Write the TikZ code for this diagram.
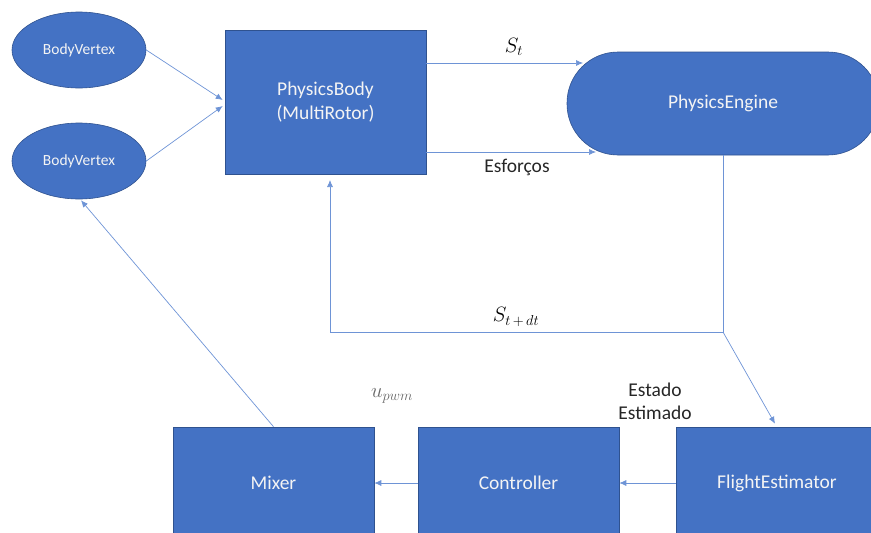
\documentclass[tikz,border=0pt]{standalone}
\usepackage{fontspec}
\setmainfont{Carlito}
\usetikzlibrary{shapes.geometric,arrows.meta,calc}
\definecolor{boxblue}{HTML}{4472C4}
\definecolor{edgeblue}{HTML}{2F528F}
\definecolor{wirecol}{HTML}{6E94D6}
\definecolor{txtwhite}{HTML}{F4F4F4}
\tikzset{
  block/.style={draw=edgeblue, line width=0.6pt, fill=boxblue, text=txtwhite,
    inner sep=0pt, font=\fontsize{19.5}{24}\selectfont, align=center},
  vertexnode/.style={ellipse, draw=edgeblue, line width=0.6pt, fill=boxblue,
    text=txtwhite, inner sep=0pt, minimum width=134pt, minimum height=76pt,
    font=\fontsize{15.5}{18}\selectfont},
  wire/.style={draw=wirecol, line width=0.7pt},
  flow/.style={wire, -{Latex[length=7pt,width=6pt]}},
  lbl/.style={inner sep=0pt, font=\fontsize{19.5}{23}\selectfont, text=black!85},
  mathlbl/.style={inner sep=0pt, font=\fontsize{20}{24}\selectfont}
}
\begin{document}
\begin{tikzpicture}[x=1pt, y=-1pt]
\useasboundingbox (0,0) rectangle (871,533);
\clip (0,0) rectangle (871,533);

% blocks
\node[vertexnode] (bv1) at (79,50) {BodyVertex};
\node[vertexnode] (bv2) at (79,161) {BodyVertex};
\node[block, minimum width=201pt, minimum height=144pt] (pb) at (325.5,102) {PhysicsBody\\(MultiRotor)};
\node[block, rounded corners=51pt, minimum width=312pt, minimum height=103pt] (pe) at (723,103.5) {PhysicsEngine};
\node[block, minimum width=201pt, minimum height=112pt] (mix) at (273.5,483) {Mixer};
\node[block, minimum width=201pt, minimum height=112pt] (ctl) at (518.5,483) {Controller};
\node[block, minimum width=202pt, minimum height=112pt] (fe) at (777,483) {FlightEstimator};

% junction points of the feedback path
\coordinate (split) at (pe.south |- 0,332);
\coordinate (cornerx) at (330,332);
\coordinate (pbin) at (330,180);

% body vertices into the body
\draw[flow] (bv1.east) -- ($(pb.west)+(-2,-2)$);
\draw[flow] (bv2.east) -- ($(pb.west)+(-2,4)$);

% body <-> engine
\draw[flow] (pb.east |- 0,63) -- (583,63);
\node[mathlbl] at (514,47) {$S_t$};
\draw[flow] (pb.east |- 0,152) -- (596,152);
\node[lbl] at (517,167) {Esforços};

% state feedback
\draw[flow] (pe.south) -- (split) -- (cornerx) -- (pbin);
\node[mathlbl] at (516,317) {$S_{t\mskip3mu+\mskip3mu dt}$};
\draw[flow] (split) -- ($(fe.north)+(-2,-3)$);

% control chain
\draw[flow] (fe.west) -- (ctl.east);
\draw[flow] (ctl.west) -- (mix.east);
\draw[flow] (mix.north) -- ($(bv2.south)+(2,1)$);

% chain labels
\node[lbl, align=center] at (655,401) {Estado\\Estimado};
\node[mathlbl, text=black!60, font=\fontsize{22}{26}\selectfont] at (392,396) {$u_{pwm}$};
\end{tikzpicture}
\end{document}
